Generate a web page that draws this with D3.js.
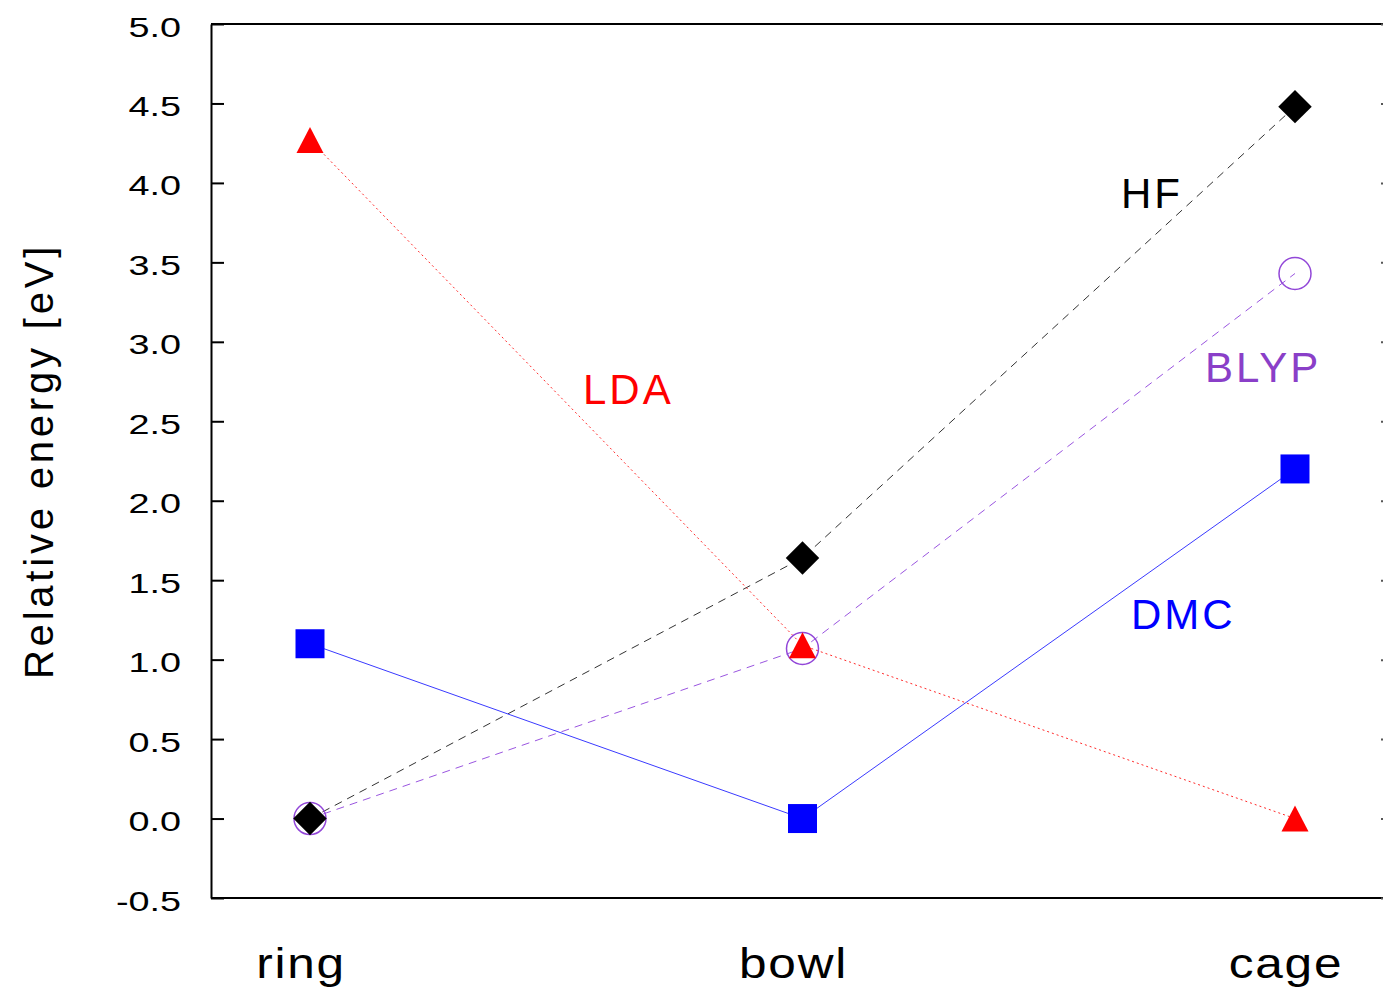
<!DOCTYPE html>
<html>
<head>
<meta charset="utf-8">
<script src="https://cdn.jsdelivr.net/npm/d3@7"></script>
<style>
  html, body { margin: 0; padding: 0; background: #fff; }
  svg { display: block; }
  text { font-family: "Liberation Sans", Arial, Helvetica, sans-serif; }
</style>
</head>
<body>
<svg id="chart" width="1383" height="990"></svg>
<script>
// ---- data ----
const categories = ["ring", "bowl", "cage"];
const hfValues   = [0.0, 1.64, 4.48];
const blypValues = [0.0, 1.07, 3.43];
const ldaValues  = [4.27, 1.09, 0.0];
const dmcValues  = [1.10, 0.0, 2.20];
const yTicks     = [-0.5, 0.0, 0.5, 1.0, 1.5, 2.0, 2.5, 3.0, 3.5, 4.0, 4.5, 5.0];
const yTitle     = "Relative energy [eV]";

const series = [
  { name: "HF",   values: hfValues,   color: "#000000", line: "#333333", dash: "8,6", symbol: "diamond",  label: [1121, 3.84], text: "#000000" },
  { name: "BLYP", values: blypValues, color: "#9247d8", line: "#9a55e0", dash: "8,6", symbol: "circle",   label: [1205, 2.75], text: "#8a3fc8" },
  { name: "LDA",  values: ldaValues,  color: "#ff0000", line: "#ff2a2a", dash: "2,3", symbol: "triangle", label: [583, 2.61],  text: "#ff0000" },
  { name: "DMC",  values: dmcValues,  color: "#0000ff", line: "#3a3aff", dash: null,  symbol: "square",   label: [1131, 1.19], text: "#0000ff" }
];

// ---- layout ----
const svg = d3.select("#chart");
const pLeft = 211, pRight = 1394, pTop = 24, pBottom = 898;

const x = d3.scalePoint().domain(categories).range([310, 1295]);
const y = d3.scaleLinear().domain([-0.5, 5.0]).range([pBottom, pTop]);

// frame: top and bottom lines
svg.append("line").attr("x1", pLeft).attr("x2", pRight).attr("y1", pTop).attr("y2", pTop)
  .attr("stroke", "#000").attr("stroke-width", 2);
svg.append("line").attr("x1", pLeft).attr("x2", pRight).attr("y1", pBottom).attr("y2", pBottom)
  .attr("stroke", "#000").attr("stroke-width", 2);

// left axis with inward ticks
const yAxisL = d3.axisLeft(y).tickValues(yTicks).tickSize(-13).tickSizeOuter(0).tickFormat("");
const gL = svg.append("g").attr("transform", `translate(${pLeft},0)`).call(yAxisL);
gL.select(".domain").attr("stroke", "#000").attr("stroke-width", 2);
gL.selectAll(".tick line").attr("stroke", "#000").attr("stroke-width", 2);

// right axis with inward ticks (mostly beyond the visible area)
const yAxisR = d3.axisRight(y).tickValues(yTicks).tickSize(-13).tickSizeOuter(0).tickFormat("");
const gR = svg.append("g").attr("transform", `translate(${pRight},0)`).call(yAxisR);
gR.select(".domain").attr("stroke", "#000").attr("stroke-width", 2);
gR.selectAll(".tick line").attr("stroke", "#555").attr("stroke-width", 2);

// tick labels
svg.append("g").selectAll("text").data(yTicks).join("text")
  .attr("transform", d => `translate(181,${y(d) + 12.5}) scale(1.4,1)`)
  .attr("text-anchor", "end")
  .attr("font-size", 27)
  .attr("fill", "#000")
  .text(d => d.toFixed(1));

// category labels
svg.append("g").selectAll("text").data(categories).join("text")
  .attr("transform", d => `translate(${x(d) - 9},978) scale(1.18,1)`)
  .attr("text-anchor", "middle")
  .attr("font-size", 42)
  .attr("letter-spacing", 1.5)
  .attr("fill", "#000")
  .text(d => d);

// y title
svg.append("text")
  .attr("transform", "translate(53,461) rotate(-90)")
  .attr("text-anchor", "middle")
  .attr("font-size", 40)
  .attr("letter-spacing", 3.8)
  .attr("fill", "#000")
  .text(yTitle);

// lines
const lineGen = d3.line().x((d, i) => x(categories[i])).y(d => y(d));
series.forEach(s => {
  svg.append("path")
    .datum(s.values)
    .attr("d", lineGen)
    .attr("fill", "none")
    .attr("stroke", s.line)
    .attr("stroke-width", 1)
    .attr("stroke-dasharray", s.dash);
});

// markers
const triPath = (w, h) => `M0,${-h / 2}L${w / 2},${h / 2}L${-w / 2},${h / 2}Z`;
const order = ["BLYP", "HF", "DMC", "LDA"];
order.forEach(nm => {
  const s = series.find(d => d.name === nm);
  const g = svg.append("g");
  s.values.forEach((v, i) => {
    const cx = x(categories[i]), cy = y(v);
    if (s.symbol === "circle") {
      g.append("circle").attr("cx", cx).attr("cy", cy).attr("r", 16)
        .attr("fill", "none").attr("stroke", s.color).attr("stroke-width", 1.5);
    } else if (s.symbol === "diamond") {
      g.append("path").attr("d", d3.symbol(d3.symbolSquare, 560)())
        .attr("transform", `translate(${cx},${cy}) rotate(45)`).attr("fill", s.color);
    } else if (s.symbol === "square") {
      g.append("path").attr("d", d3.symbol(d3.symbolSquare, 841)())
        .attr("transform", `translate(${cx},${cy})`).attr("fill", s.color);
    } else if (s.symbol === "triangle") {
      g.append("path").attr("d", triPath(27, 26))
        .attr("transform", `translate(${cx},${cy})`).attr("fill", s.color);
    }
  });
});

// series labels
series.forEach(s => {
  svg.append("text")
    .attr("x", s.label[0])
    .attr("y", y(s.label[1]))
    .attr("font-size", 42)
    .attr("letter-spacing", 3)
    .attr("fill", s.text)
    .text(s.name);
});
</script>
</body>
</html>
